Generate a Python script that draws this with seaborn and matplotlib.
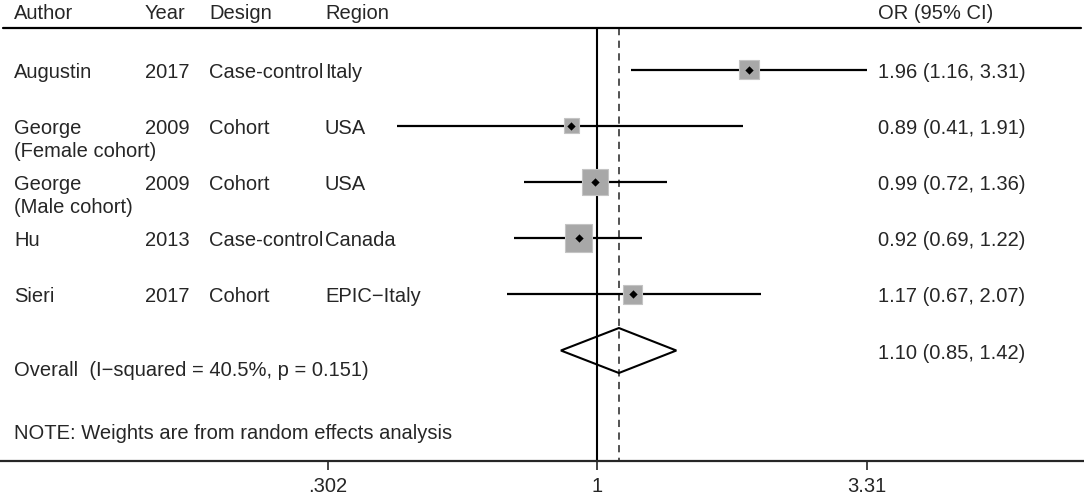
import matplotlib
matplotlib.use("Agg")
import matplotlib.pyplot as plt
import matplotlib.transforms as mtransforms
from matplotlib.patches import Polygon
import pandas as pd
import seaborn as sns

# study data
authors = ["Augustin", "George\n(Female cohort)", "George\n(Male cohort)", "Hu", "Sieri"]
years = ["2017", "2009", "2009", "2013", "2017"]
designs = ["Case-control", "Cohort", "Cohort", "Case-control", "Cohort"]
regions = ["Italy", "USA", "USA", "Canada", "EPIC\u2212Italy"]
odds = [1.96, 0.89, 0.99, 0.92, 1.17]
ci_low = [1.16, 0.41, 0.72, 0.69, 0.67]
ci_high = [3.31, 1.91, 1.36, 1.22, 2.07]
weights = [15.7, 9.5, 28.6, 30.9, 15.3]

overall_or = 1.10
overall_low = 0.85
overall_high = 1.42
overall_label = "Overall  (I\u2212squared = 40.5%, p = 0.151)"
note_label = "NOTE: Weights are from random effects analysis"

headers = ["Author", "Year", "Design", "Region", "OR (95% CI)"]
tick_values = [0.302, 1, 3.31]
tick_labels = [".302", "1", "3.31"]

sns.set_style("white")
plt.rcParams["font.family"] = ["Liberation Sans", "DejaVu Sans"]
FS = 14.5

df = pd.DataFrame({"row": range(len(odds)), "or": odds, "lo": ci_low,
                   "hi": ci_high, "w": weights})

fig = plt.figure(figsize=(10.84, 4.95), dpi=100)
ax = fig.add_axes([0, 1 - 461 / 495, 1, 461 / 495])
ax.set_xscale("log")
ax.set_xlim(0.0702, 8.70)
ax.set_ylim(6.966, -1.237)

tr = mtransforms.blended_transform_factory(ax.transAxes, ax.transData)
col_x = [14 / 1084, 145 / 1084, 209 / 1084, 325 / 1084, 878 / 1084]

# header
for px, lab in zip(col_x, headers):
    ax.text(px, -1.0, lab, transform=tr, fontsize=FS, va="center", ha="left")
ax.axhline(-0.74, xmin=0.003, xmax=0.997, color="black", lw=1.6)

# reference lines
ax.vlines(1, -0.74, 6.966, color="black", lw=1.5, zorder=1)
ax.vlines(overall_or, -0.74, 6.966, color="#444444", lw=1.3, linestyles=(0, (4, 3)), zorder=1)

# CI lines
ax.hlines(df["row"], df["lo"], df["hi"], color="black", lw=1.6, zorder=2)

# weight boxes
side_px = 4.9 * df["w"] ** 0.5
ax.scatter(df["or"], df["row"], s=(side_px * 0.72) ** 2, marker="s",
           color="#a8a8a8", edgecolor="#c4c4c4", linewidth=0.8, zorder=3)

# point estimates
sns.scatterplot(data=df, x="or", y="row", marker="D", color="black", s=18,
                edgecolor="black", linewidth=0, zorder=4, ax=ax, legend=False)

# text columns
dy = 0.045
for i in range(len(odds)):
    lines = authors[i].split("\n")
    ax.text(col_x[0], i + dy, lines[0], transform=tr, fontsize=FS, va="center")
    if len(lines) > 1:
        ax.text(col_x[0], i + dy + 0.41, lines[1], transform=tr, fontsize=FS, va="center")
    ax.text(col_x[1], i + dy, years[i], transform=tr, fontsize=FS, va="center")
    ax.text(col_x[2], i + dy, designs[i], transform=tr, fontsize=FS, va="center")
    ax.text(col_x[3], i + dy, regions[i], transform=tr, fontsize=FS, va="center")
    ax.text(col_x[4], i + dy, f"{odds[i]:.2f} ({ci_low[i]:.2f}, {ci_high[i]:.2f})",
            transform=tr, fontsize=FS, va="center")

# overall diamond
n = len(odds)
h = 0.4
diamond = Polygon([(overall_low, n), (overall_or, n - h), (overall_high, n), (overall_or, n + h)],
                  closed=True, fill=False, edgecolor="black", lw=1.5, zorder=3)
ax.add_patch(diamond)
ax.text(col_x[4], n + dy, f"{overall_or:.2f} ({overall_low:.2f}, {overall_high:.2f})",
        transform=tr, fontsize=FS, va="center")
ax.text(col_x[0], 5.35, overall_label, transform=tr, fontsize=FS, va="center")
ax.text(col_x[0], 6.47, note_label, transform=tr, fontsize=FS, va="center")

# axes styling
for s in ["top", "left", "right"]:
    ax.spines[s].set_visible(False)
ax.spines["bottom"].set_linewidth(1.6)
ax.set_yticks([])
ax.set_xticks(tick_values)
ax.set_xticklabels(tick_labels, fontsize=FS)
ax.minorticks_off()
ax.tick_params(axis="x", direction="out", length=6.5, width=1.2, pad=5, bottom=True)
ax.set_xlabel("")
ax.set_ylabel("")

fig.savefig("out.png", dpi=100)
